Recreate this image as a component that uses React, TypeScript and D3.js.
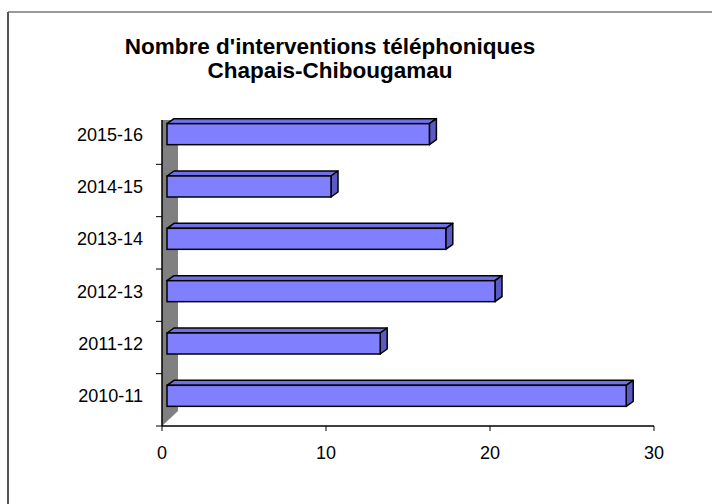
import { useEffect, useRef } from "react";
import * as d3 from "d3";

const categories = ["2010-11", "2011-12", "2012-13", "2013-14", "2014-15", "2015-16"];
const values = [28, 13, 20, 17, 10, 16];
const xTicks = [0, 10, 20, 30];
const titleLines = ["Nombre d'interventions téléphoniques", "Chapais-Chibougamau"];

const FRONT = "#8080ff";
const TOP = "#7070e6";
const SIDE = "#5a5ac4";
const WALL = "#808080";
const FONT = "Arial, 'Liberation Sans', sans-serif";

export default function App() {
  const svgRef = useRef<SVGSVGElement>(null);

  useEffect(() => {
    const svgEl = svgRef.current;
    if (!svgEl) return;
    const svg = d3.select(svgEl);
    svg.selectAll("*").remove();

    const width = 712;
    const height = 504;

    // chart frame (only top and left edges visible)
    svg.append("line").attr("x1", 8).attr("y1", 12).attr("x2", width).attr("y2", 12)
      .attr("stroke", "#999").attr("stroke-width", 2);
    svg.append("line").attr("x1", 8).attr("y1", 12).attr("x2", 8).attr("y2", height)
      .attr("stroke", "#555").attr("stroke-width", 2);

    const x = d3.scaleLinear().domain([0, 30]).range([162, 654]);
    const y = d3.scaleBand<string>().domain(categories).range([426, 112]);

    const wallDx = 16;
    const wallDy = -15;
    const axisTop = 120;
    const x0 = x(0);
    const yBottom = 426;

    // side wall
    svg.append("polygon")
      .attr("points", [
        [x0, axisTop],
        [x0 + wallDx, axisTop],
        [x0 + wallDx, yBottom + wallDy],
        [x0, yBottom],
      ].map((p) => p.join(",")).join(" "))
      .attr("fill", WALL);

    // axes
    svg.append("line").attr("x1", x0).attr("y1", axisTop).attr("x2", x0).attr("y2", yBottom)
      .attr("stroke", "#000").attr("stroke-width", 1.5);
    svg.append("line").attr("x1", x0).attr("y1", yBottom).attr("x2", x(30)).attr("y2", yBottom)
      .attr("stroke", "#000").attr("stroke-width", 1.5);

    const bw = y.bandwidth();
    const bandEdges = categories.map((c) => y(c)!).filter((v) => v > axisTop);
    svg.selectAll(".ytick").data(bandEdges).enter().append("line")
      .attr("x1", x0 - 6).attr("x2", x0).attr("y1", (d) => d).attr("y2", (d) => d)
      .attr("stroke", "#000").attr("stroke-width", 1);
    svg.append("line").attr("x1", x0 - 6).attr("x2", x0).attr("y1", yBottom).attr("y2", yBottom)
      .attr("stroke", "#000");

    svg.selectAll(".xtick").data(xTicks).enter().append("line")
      .attr("x1", (d) => x(d)).attr("x2", (d) => x(d)).attr("y1", yBottom).attr("y2", yBottom + 5)
      .attr("stroke", "#000");
    svg.selectAll(".xlabel").data(xTicks).enter().append("text")
      .attr("x", (d) => x(d)).attr("y", 459)
      .attr("text-anchor", "middle")
      .attr("font-family", FONT).attr("font-size", 18).attr("fill", "#000")
      .text((d) => String(d));

    svg.selectAll(".ylabel").data(categories).enter().append("text")
      .attr("x", 143).attr("y", (d) => y(d)! + bw / 2 - 4)
      .attr("dy", "0.36em")
      .attr("text-anchor", "end")
      .attr("font-family", FONT).attr("font-size", 18).attr("fill", "#000")
      .text((d) => d);

    // 3D bars
    const barH = 21;
    const off = 5;
    const dx = 7;
    const dy = -5;
    const bars = svg.selectAll(".bar").data(categories.map((c, i) => ({ c, v: values[i] })))
      .enter().append("g");

    bars.each(function (d) {
      const g = d3.select(this);
      const bx0 = x(0) + off;
      const bx1 = x(d.v) + off;
      const yt = y(d.c)! + (bw - barH) / 2 - 4;
      const yb = yt + barH;
      const pts = (p: number[][]) => p.map((q) => q.join(",")).join(" ");
      g.append("polygon")
        .attr("points", pts([[bx0, yt], [bx0 + dx, yt + dy], [bx1 + dx, yt + dy], [bx1, yt]]))
        .attr("fill", TOP).attr("stroke", "#000").attr("stroke-width", 1.5).attr("stroke-linejoin", "round");
      g.append("polygon")
        .attr("points", pts([[bx1, yt], [bx1 + dx, yt + dy], [bx1 + dx, yb + dy], [bx1, yb]]))
        .attr("fill", SIDE).attr("stroke", "#000").attr("stroke-width", 1.5).attr("stroke-linejoin", "round");
      g.append("rect")
        .attr("x", bx0).attr("y", yt).attr("width", bx1 - bx0).attr("height", barH)
        .attr("fill", FRONT).attr("stroke", "#000").attr("stroke-width", 1.5);
    });

    // title
    svg.selectAll(".title").data(titleLines).enter().append("text")
      .attr("x", 330).attr("y", (_, i) => 54 + i * 24)
      .attr("text-anchor", "middle")
      .attr("font-family", FONT).attr("font-size", 22.5).attr("font-weight", "bold").attr("fill", "#000")
      .text((d) => d);
  }, []);

  return (
    <div style={{ position: "absolute", left: 0, top: 0, width: 712, height: 504, background: "#fff" }}>
      <svg ref={svgRef} width={712} height={504} style={{ display: "block" }} />
    </div>
  );
}
